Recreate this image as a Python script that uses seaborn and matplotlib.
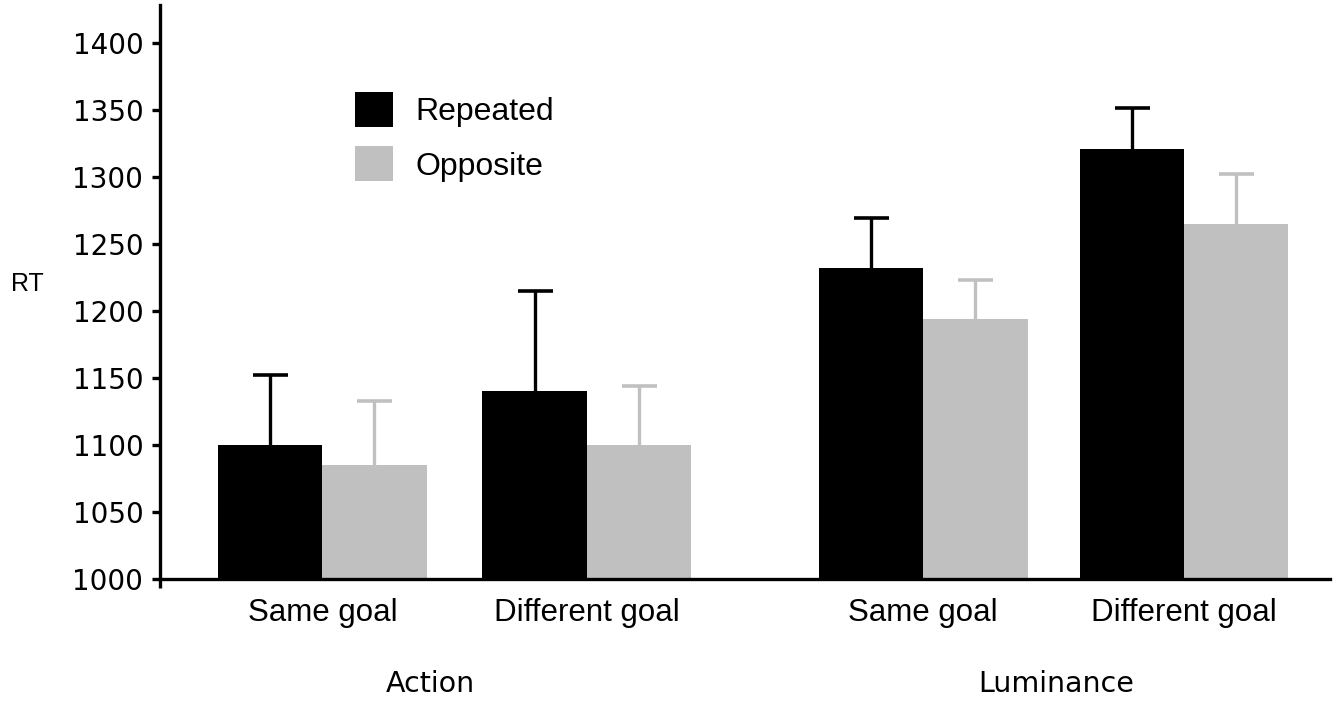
import numpy as np
import pandas as pd
import seaborn as sns
import matplotlib.pyplot as plt
import matplotlib.transforms as mtransforms
from matplotlib.patches import Patch

# Mean response times (ms) and upper error bars per condition
tasks = ["Action", "Action", "Luminance", "Luminance"]
conditions = ["Same goal", "Different goal", "Same goal", "Different goal"]
series = ["Repeated", "Opposite"]
repeated_rt = [1100, 1140, 1232, 1321]
opposite_rt = [1085, 1100, 1194, 1265]
repeated_err = [52, 75, 37, 30]
opposite_err = [48, 44, 29, 37]
y_ticks = [1000, 1050, 1100, 1150, 1200, 1250, 1300, 1350, 1400]
group_labels = ["Action", "Luminance"]

# Cluster centres along x (a wider gap separates the two tasks)
cluster_pos = [0.0, 1.014, 2.305, 3.305]
group_label_pos = [0.413, 2.814]

colors = {"Repeated": "black", "Opposite": "#c0c0c0"}

df = pd.DataFrame({
    "pos": cluster_pos * 2,
    "rt": repeated_rt + opposite_rt,
    "series": [series[0]] * 4 + [series[1]] * 4,
})

sns.set_style("ticks")
plt.rcParams["font.family"] = ["DejaVu Sans"]
plt.rcParams["text.color"] = "black"
plt.rcParams["xtick.color"] = "black"
plt.rcParams["ytick.color"] = "black"

W, H = 1339, 707
fig = plt.figure(figsize=(W / 100, H / 100), dpi=100)
ax = fig.add_axes([160 / W, (H - 579) / H, (1330 - 160) / W, (579 - 5) / H])

sns.barplot(data=df, x="pos", y="rt", hue="series", hue_order=series,
            palette=colors, native_scale=True, errorbar=None, legend=False,
            saturation=1, linewidth=0, width=0.8, gap=0, ax=ax, zorder=2)

# upward-only error bars placed on top of each bar
errs = {"Repeated": repeated_err, "Opposite": opposite_err}
n = len(cluster_pos)
for i, s in enumerate(series):
    bars = ax.patches[i * n:(i + 1) * n]
    xs = [b.get_x() + b.get_width() / 2 for b in bars]
    tops = [b.get_y() + b.get_height() for b in bars]
    eb = ax.errorbar(xs, tops, yerr=[np.zeros(n), errs[s]], fmt="none",
                     ecolor=colors[s], elinewidth=2.4, capsize=12.6,
                     capthick=2.6, zorder=3)
    eb.lines[1][0].set_visible(False)

ax.set_ylim(1000, 1428)
ax.set_xlim(-0.6226, 3.865)
ax.set_yticks(y_ticks)
ax.set_yticklabels([str(v) for v in y_ticks], fontsize=20,
                   fontfamily="DejaVu Sans", color="black")
ax.set_xticks(cluster_pos)
ax.set_xticklabels(conditions, fontsize=22.5, fontfamily="Liberation Sans",
                   color="black")
ax.tick_params(axis="x", length=0, pad=13.5)
ax.tick_params(axis="y", length=6, width=2.4, pad=6, colors="black")
ax.set_xlabel("")
ax.set_ylabel("")

for side in ["top", "right"]:
    ax.spines[side].set_visible(False)
for side in ["left", "bottom"]:
    ax.spines[side].set_linewidth(2.4)
    ax.spines[side].set_color("black")
# the y axis line runs a little past the x axis
ax.plot([0, 0], [0, -9 / 574], transform=ax.transAxes, clip_on=False,
        color="black", lw=2.4, solid_capstyle="butt")

handles = [Patch(facecolor=colors[s], edgecolor="none", label=s) for s in series]
leg = ax.legend(handles=handles, loc="upper left",
                bbox_to_anchor=(355 / W, 1 - 92 / H), bbox_transform=fig.transFigure,
                frameon=False, borderpad=0, borderaxespad=0,
                handlelength=1.19, handleheight=1.31, handletextpad=0.7,
                labelspacing=0.6, prop={"family": "Liberation Sans", "size": 23})
for t in leg.get_texts():
    t.set_color("black")

label_tf = mtransforms.blended_transform_factory(ax.transData, fig.transFigure)
for lab, xp in zip(group_labels, group_label_pos):
    ax.text(xp, (H - 684) / H, lab, transform=label_tf,
            ha="center", va="center", fontsize=20.5, fontfamily="DejaVu Sans",
            color="black")

fig.text(27 / W, 1 - 284 / H, "RT", ha="center", va="center", fontsize=18,
         fontfamily="Liberation Sans", color="black")

fig.savefig("out.png", dpi=100)
